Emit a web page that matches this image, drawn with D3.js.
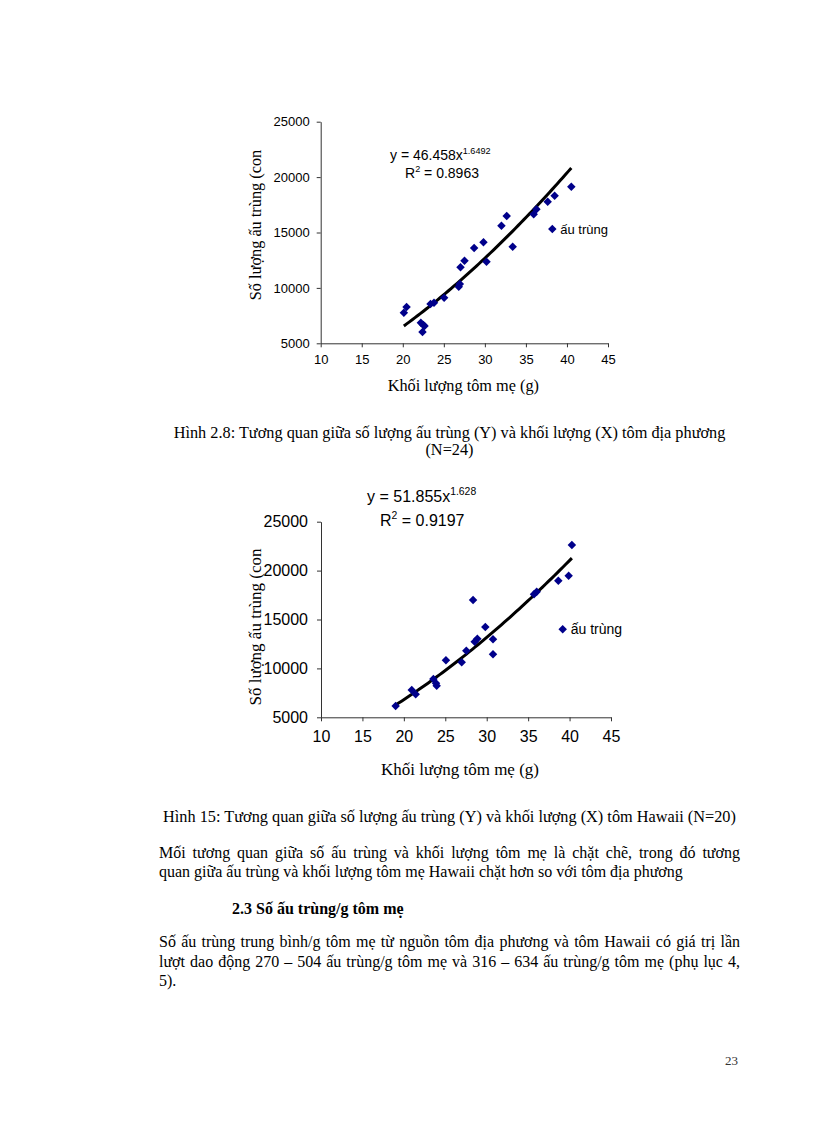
<!DOCTYPE html>
<html><head><meta charset="utf-8">
<script src="https://cdn.jsdelivr.net/npm/d3@7"></script>
<style>html,body{margin:0;padding:0;background:#fff}</style>
</head><body>
<script>
// ---------- data ----------
const xTicks = [10, 15, 20, 25, 30, 35, 40, 45];
const yTicks = [5000, 10000, 15000, 20000, 25000];

// Chart 1: local shrimp (N=24)
const localWeight = [20.13, 20.46, 22.2, 22.5, 22.65, 22.4, 23.38, 23.8, 25.04, 26.82, 26.95, 27.03, 27.52, 28.69, 29.83, 30.2, 32.02, 32.66, 33.39, 35.95, 36.28, 37.65, 38.5, 40.53];
const localLarvae = [7760, 8280, 6860, 6650, 6560, 6020, 8550, 8660, 9110, 10110, 10350, 11860, 12460, 13600, 14110, 12360, 15610, 16490, 13720, 16640, 17090, 17780, 18320, 19130];
const localFit = {a: 46.458, b: 1.6492, r2: "0.8963"};

// Chart 2: Hawaii shrimp (N=20)
const hawaiiWeight = [19.01, 20.95, 21.43, 23.56, 23.88, 23.96, 25.08, 26.98, 27.54, 28.35, 28.55, 28.87, 29.83, 30.76, 30.76, 35.71, 36.03, 38.64, 39.89, 40.28];
const hawaiiLarvae = [6155, 7790, 7350, 8920, 8480, 8230, 10830, 10620, 11810, 16990, 12730, 13040, 14230, 12970, 11440, 17580, 17840, 18970, 19480, 22620];
const hawaiiFit = {a: 51.855, b: 1.628, r2: "0.9197"};

const seriesName = "ấu trùng";
const yLabel = "Số lượng ấu trùng (con";
const xLabel = "Khối lượng tôm mẹ (g)";

// ---------- drawing ----------
const W = 816, H = 1123;
const svg = d3.select("body").append("svg").attr("width", W).attr("height", H)
  .style("display","block").style("background","#fff");
const serif = "'Liberation Serif','Times New Roman',serif";
const sans = "'Liberation Sans',Arial,sans-serif";

function chart(cfg, xs, ys, fit) {
  const x = d3.scaleLinear().domain([10, 45]).range([cfg.x0, cfg.x1]);
  const y = d3.scaleLinear().domain([5000, 25000]).range([cfg.y0, cfg.y1]);
  const g = svg.append("g");
  const ax = g.append("g").attr("transform", `translate(0,${cfg.y0})`)
    .call(d3.axisBottom(x).tickValues(xTicks).tickSize(cfg.tick).tickPadding(cfg.xpad).tickSizeOuter(0));
  const ay = g.append("g").attr("transform", `translate(${cfg.x0},0)`)
    .call(d3.axisLeft(y).tickValues(yTicks).tickSize(cfg.tick).tickPadding(cfg.ypad).tickSizeOuter(0).tickFormat(d3.format("d")));
  [ax, ay].forEach(a => {
    a.selectAll("path,line").attr("stroke", "#333").attr("stroke-width", 1);
    a.selectAll("text").attr("font-family", sans).attr("font-size", cfg.fs).attr("fill", "#000");
  });
  // trendline (power fit from the chart's equation)
  const xmin = d3.min(xs), xmax = d3.max(xs);
  const tl = d3.range(0, 61).map(i => xmin + (xmax - xmin) * i / 60);
  g.append("path").datum(tl)
    .attr("d", d3.line().x(d => x(d)).y(d => y(fit.a * Math.pow(d, fit.b))))
    .attr("fill", "none").attr("stroke", "#000").attr("stroke-width", 3);
  // points
  const sym = d3.symbol(d3.symbolSquare, 36);
  g.selectAll("path.pt").data(xs.map((v, i) => [v, ys[i]])).join("path")
    .attr("class", "pt").attr("d", sym)
    .attr("transform", d => `translate(${x(d[0])},${y(d[1])}) rotate(45)`)
    .attr("fill", "#00008B");
  // legend
  g.append("path").attr("d", sym).attr("transform", `translate(${cfg.lx},${cfg.ly}) rotate(45)`).attr("fill", "#00008B");
  g.append("text").attr("x", cfg.lx + 8).attr("y", cfg.ly + cfg.lfs * 0.36).attr("font-family", sans)
    .attr("font-size", cfg.lfs).text(seriesName);
  // equation
  const eq = g.append("text").attr("x", cfg.ex).attr("y", cfg.ey).attr("font-family", sans).attr("font-size", cfg.efs);
  eq.append("tspan").text(`y = ${fit.a}x`);
  eq.append("tspan").attr("dy", -cfg.efs * 0.42).attr("font-size", cfg.efs * 0.65).text(String(fit.b));
  const r2 = g.append("text").attr("x", cfg.rx).attr("y", cfg.ry).attr("font-family", sans).attr("font-size", cfg.efs);
  r2.append("tspan").text("R");
  r2.append("tspan").attr("dy", -cfg.efs * 0.42).attr("font-size", cfg.efs * 0.65).text("2");
  r2.append("tspan").attr("dy", cfg.efs * 0.42).text(` = ${fit.r2}`);
  // axis titles
  g.append("text").attr("x", (cfg.x0 + cfg.x1) / 2 + cfg.xlOff).attr("y", cfg.xly).attr("text-anchor", "middle")
    .attr("font-family", serif).attr("font-size", cfg.tfs).text(xLabel);
  g.append("text").attr("transform", `translate(${cfg.ylx},${cfg.ylc}) rotate(-90)`).attr("text-anchor", "middle")
    .attr("font-family", serif).attr("font-size", cfg.tfs).text(yLabel);
}

chart({x0: 320.7, x1: 608, y0: 343.3, y1: 121.7, tick: 4, xpad: 7, ypad: 7, fs: 13,
       lx: 552.3, ly: 229, lfs: 13, ex: 390, ey: 160, rx: 405, ry: 178, efs: 14,
       xly: 391, xlOff: -1, tfs: 16.3, ylx: 261, ylc: 225},
      localWeight, localLarvae, localFit);

chart({x0: 321, x1: 611, y0: 717.3, y1: 521.7, tick: 4, xpad: 9, ypad: 9, fs: 16,
       lx: 562.7, ly: 629.3, lfs: 14, ex: 367, ey: 502, rx: 380, ry: 526, efs: 16,
       xly: 775, xlOff: -6, tfs: 17, ylx: 261, ylc: 627},
      hawaiiWeight, hawaiiLarvae, hawaiiFit);

// ---------- page text ----------
function line(txt, x, yy, opts = {}) {
  const t = svg.append("text").attr("x", x).attr("y", yy).attr("font-family", serif)
    .attr("font-size", opts.fs || 16).attr("text-anchor", opts.anchor || "start")
    .attr("font-weight", opts.bold ? "bold" : "normal").attr("fill", opts.fill || "#000").text(txt);
  if (opts.justify) {
    const n = t.node().getComputedTextLength();
    const spaces = (txt.match(/ /g) || []).length;
    if (spaces) t.attr("word-spacing", (opts.justify - n) / spaces);
  }
  return t;
}
line("Hình 2.8: Tương quan giữa số lượng ấu trùng (Y) và khối lượng (X) tôm địa phương", 449.5, 438, {anchor: "middle", fs: 16.3});
line("(N=24)", 449.5, 455, {anchor: "middle", fs: 16.3});
line("Hình 15: Tương quan giữa số lượng ấu trùng (Y) và khối lượng (X) tôm Hawaii (N=20)", 449.5, 822, {anchor: "middle", fs: 16.3});
line("Mối tương quan giữa số ấu trùng và khối lượng tôm mẹ là chặt chẽ, trong đó tương", 159, 858, {justify: 581});
line("quan giữa ấu trùng và khối lượng tôm mẹ Hawaii chặt hơn so với tôm địa phương", 159, 877);
line("2.3 Số ấu trùng/g tôm mẹ", 232, 914, {bold: true});
line("Số ấu trùng trung bình/g tôm mẹ từ nguồn tôm địa phương và tôm Hawaii có giá trị lần", 159, 947, {justify: 581});
line("lượt dao động 270 – 504 ấu trùng/g tôm mẹ và 316 – 634 ấu trùng/g tôm mẹ (phụ lục 4,", 159, 967, {justify: 581});
line("5).", 159, 986);
line("23", 738, 1065, {anchor: "end", fs: 13, fill: "#333"});
</script>
</body></html>
